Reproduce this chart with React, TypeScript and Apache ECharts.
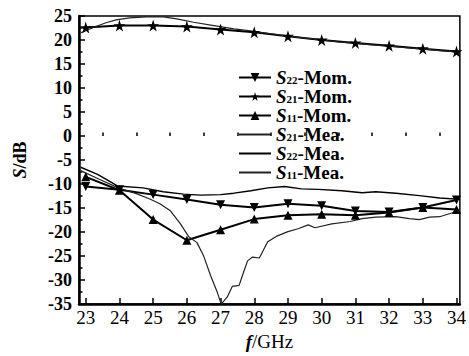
import React, { useEffect, useRef } from 'react';
import * as echarts from 'echarts';

const freqs = [23, 24, 25, 26, 27, 28, 29, 30, 31, 32, 33, 34];
const s22Mom = [-10.5, -11.2, -12.2, -13.2, -14.3, -14.9, -14.1, -14.5, -15.6, -15.8, -14.9, -13.3];
const s21Mom = [22.6, 23.0, 23.0, 22.8, 22.2, 21.6, 20.8, 20.0, 19.4, 18.8, 18.2, 17.6];
const s11Mom = [-8.5, -11.3, -17.4, -21.7, -19.5, -17.3, -16.5, -16.3, -16.5, -15.9, -14.9, -15.3];

const s21Mea: [number, number][] = [
  [22.85, 21.5], [23.3, 22.8], [23.6, 23.6], [23.9, 24.2], [24.3, 24.6], [24.8, 24.8], [25.3, 24.8],
  [25.7, 24.4], [26.2, 23.7], [26.8, 23.0], [27.4, 22.3], [28, 21.8], [28.5, 21.3], [29, 20.8],
  [29.5, 20.4], [30, 20.0], [30.5, 19.6], [31, 19.3], [31.5, 19.0], [32, 18.7], [32.5, 18.4],
  [33, 18.1], [33.5, 17.8], [34, 17.5], [34.1, 17.4],
];
const s22Mea: [number, number][] = [
  [22.85, -6.5], [23.35, -8.0], [23.94, -10.4], [24.7, -10.8], [25.3, -11.6], [25.9, -12.1],
  [26.4, -12.3], [27, -12.2], [27.4, -11.9], [27.9, -11.4], [28.4, -10.8], [28.9, -10.5],
  [29.4, -11.0], [29.9, -11.1], [30.6, -11.4], [31.2, -11.8], [31.6, -11.6], [32.2, -11.9],
  [32.9, -12.4], [33.5, -12.9], [34.1, -13.2],
];
const s11Mea: [number, number][] = [
  [22.85, -7.2], [23.4, -9.0], [24.0, -10.9], [24.5, -12.0], [24.9, -13.1], [25.2, -14.1],
  [25.5, -15.5], [25.8, -18.2], [26.05, -20.9], [26.3, -22.2], [26.5, -25], [26.7, -29],
  [26.9, -32.5], [27.02, -35], [27.2, -33.5], [27.35, -31.3], [27.55, -31.1], [27.7, -28],
  [27.8, -26], [27.95, -25.2], [28.15, -25.4], [28.4, -22], [28.65, -20.9], [29.0, -19.9],
  [29.3, -19.3], [29.6, -18.5], [29.8, -19.1], [30.3, -18.3], [30.85, -17.8], [31.2, -17.2],
  [31.6, -16.9], [32.2, -16.8], [32.6, -17.2], [32.9, -17.4], [33.2, -16.9], [33.5, -16.8],
  [34.1, -15.5],
];

const xMajor = [23, 24, 25, 26, 27, 28, 29, 30, 31, 32, 33, 34];
const xMinor = [23.5, 24.5, 25.5, 26.5, 27.5, 28.5, 29.5, 30.5, 31.5, 32.5, 33.5];
const legendNames = ['S22-Mom.', 'S21-Mom.', 'S11-Mom.', 'S21-Mea.', 'S22-Mea.', 'S11-Mea.'];

const FONT = '"Liberation Serif", "Times New Roman", serif';
const STAR = 'path://M50,0 L61,35 L98,35 L68,57 L79,91 L50,70 L21,91 L32,57 L2,35 L39,35 Z';

export default function App() {
  const ref = useRef<HTMLDivElement>(null);
  useEffect(() => {
    if (!ref.current) return;
    const chart = echarts.init(ref.current, undefined, { renderer: 'svg' });
    const momLine = { color: '#000', width: 2 };
    const pair = (arr: number[]) => freqs.map((f, i) => [f, arr[i]]);
    const baseText = { fontFamily: FONT, fontSize: 18, fontWeight: 'bold' as const, color: '#000' };
    const meaSeries = (name: string, data: [number, number][], color: string, width: number) => ({
      name, type: 'line', data, symbol: 'circle', showSymbol: false, symbolSize: 0,
      lineStyle: { color, width }, itemStyle: { color: 'rgba(0,0,0,0)', borderWidth: 0 },
    });
    chart.setOption({
      animation: false,
      backgroundColor: '#fff',
      grid: { left: 79, right: 3, top: 16, bottom: 45, show: true, borderColor: '#000', borderWidth: 1.5 },
      legend: {
        left: 233,
        top: 63,
        orient: 'vertical',
        itemWidth: 32,
        itemHeight: 11,
        itemGap: 0,
        data: legendNames,
        formatter: (name: string) => {
          const m = name.match(/^S(\d\d)-(.*)$/);
          if (!m) return name;
          return `{s|S}{sub|${m[1]}}{t|-${m[2]}}`;
        },
        textStyle: {
          ...baseText,
          rich: {
            s: { ...baseText, fontSize: 19, fontStyle: 'italic', lineHeight: 16, verticalAlign: 'middle' },
            sub: { ...baseText, fontSize: 11, lineHeight: 16, verticalAlign: 'bottom', padding: [6, 0, 0, 0] },
            t: { ...baseText, fontSize: 19, lineHeight: 16, verticalAlign: 'middle' },
          },
        },
      },
      xAxis: [
        {
          type: 'value',
          min: 22.8,
          max: 34.1,
          position: 'bottom',
          name: '{i|f}/GHz',
          nameLocation: 'middle',
          nameGap: 27,
          nameTextStyle: {
            ...baseText,
            fontWeight: 'normal',
            fontSize: 19,
            rich: {
              i: { ...baseText, fontSize: 19, fontStyle: 'italic' },
            },
          },
          axisLine: { show: true, onZero: false, lineStyle: { color: '#000', width: 2.5 } },
          axisTick: { show: true, inside: true, length: 6, customValues: xMajor, lineStyle: { color: '#000', width: 1.5 } },
          axisLabel: { show: true, customValues: xMajor, margin: 4, ...baseText, fontWeight: 'normal', fontSize: 19 },
          splitLine: { show: false },
        },
        {
          type: 'value',
          min: 22.8,
          max: 34.1,
          position: 'bottom',
          axisLine: { show: false },
          axisTick: { show: true, inside: true, length: 3.5, customValues: xMinor, lineStyle: { color: '#000', width: 1.5 } },
          axisLabel: { show: false },
          splitLine: { show: false },
        },
      ],
      yAxis: {
        type: 'value',
        min: -35,
        max: 25,
        interval: 5,
        name: '{i|S}/dB',
        nameLocation: 'middle',
        nameGap: 50,
        nameTextStyle: {
          ...baseText,
          rich: { i: { ...baseText, fontStyle: 'italic' } },
        },
        axisLine: { show: true, onZero: false, lineStyle: { color: '#000', width: 2.5 } },
        axisTick: { show: true, inside: true, length: 6, lineStyle: { color: '#000', width: 1.5 } },
        minorTick: { show: true, splitNumber: 2, length: 3.5, lineStyle: { color: '#000', width: 1.5 } },
        axisLabel: { ...baseText, margin: 7 },
        splitLine: { show: false },
      },
      series: [
        {
          name: 'S22-Mom.', type: 'line', data: pair(s22Mom), symbol: 'triangle', symbolRotate: 180,
          symbolSize: 9, lineStyle: momLine, itemStyle: { color: '#000' },
        },
        {
          name: 'S21-Mom.', type: 'line', data: pair(s21Mom), symbol: STAR,
          symbolSize: 12, lineStyle: momLine, itemStyle: { color: '#000' },
        },
        {
          name: 'S11-Mom.', type: 'line', data: pair(s11Mom), symbol: 'triangle',
          symbolSize: 9, lineStyle: momLine, itemStyle: { color: '#000' },
        },
        meaSeries('S21-Mea.', s21Mea, '#222', 1.2),
        meaSeries('S22-Mea.', s22Mea, '#000', 1.4),
        meaSeries('S11-Mea.', s11Mea, '#222', 1.2),
      ],
    });
    return () => chart.dispose();
  }, []);
  return <div ref={ref} style={{ width: 469, height: 356, position: 'absolute', left: 0, top: 0 }} />;
}
